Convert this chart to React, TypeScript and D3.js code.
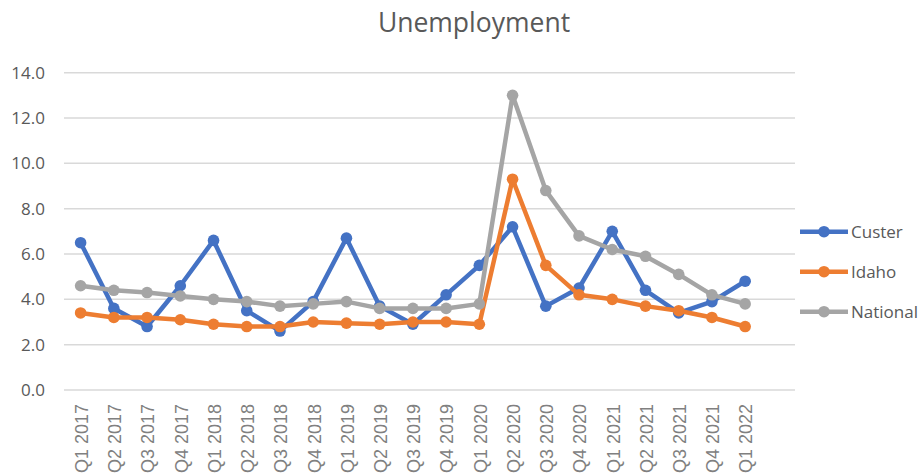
import React from "react";
import * as d3 from "d3";

const quarters = [
  "Q1 2017", "Q2 2017", "Q3 2017", "Q4 2017",
  "Q1 2018", "Q2 2018", "Q3 2018", "Q4 2018",
  "Q1 2019", "Q2 2019", "Q3 2019", "Q4 2019",
  "Q1 2020", "Q2 2020", "Q3 2020", "Q4 2020",
  "Q1 2021", "Q2 2021", "Q3 2021", "Q4 2021",
  "Q1 2022",
];

const custer = [6.5, 3.6, 2.8, 4.6, 6.6, 3.5, 2.6, 3.9, 6.7, 3.7, 2.9, 4.2, 5.5, 7.2, 3.7, 4.5, 7.0, 4.4, 3.4, 3.9, 4.8];
const idaho = [3.4, 3.2, 3.2, 3.1, 2.9, 2.8, 2.8, 3.0, 2.95, 2.9, 3.0, 3.0, 2.9, 9.3, 5.5, 4.2, 4.0, 3.7, 3.5, 3.2, 2.8];
const national = [4.6, 4.4, 4.3, 4.15, 4.0, 3.9, 3.7, 3.8, 3.9, 3.6, 3.6, 3.6, 3.8, 13.0, 8.8, 6.8, 6.2, 5.9, 5.1, 4.2, 3.8];

const yTicks = [0, 2, 4, 6, 8, 10, 12, 14];

const series = [
  { name: "Custer", values: custer, color: "#4472C4" },
  { name: "Idaho", values: idaho, color: "#ED7D31" },
  { name: "National", values: national, color: "#A5A5A5" },
];

const W = 920;
const H = 476;
const left = 64;
const right = 795;
const top = 72.7;
const bottom = 390;
const font = "'Open Sans', 'Noto Sans', sans-serif";

export default function App() {
  // excel leaves one empty slot at the right end of the category axis
  const step = (right - left) / 22;
  const x = d3
    .scaleBand()
    .domain(quarters)
    .range([left, left + step * quarters.length]);

  const y = d3.scaleLinear().domain([0, 14]).range([bottom, top]);

  const line = d3
    .line<number>()
    .x((d, i) => (x(quarters[i]) as number) + x.bandwidth() / 2)
    .y((d) => y(d));

  return (
    <svg
      width={W}
      height={H}
      style={{ position: "absolute", left: 0, top: 0, background: "#fff" }}
    >
      <text x={474} y={32} textAnchor="middle" fontFamily={font} fontSize={26.5} fill="#595959">
        Unemployment
      </text>

      {yTicks.map((t) => (
        <g key={t}>
          <line x1={left} x2={right} y1={y(t)} y2={y(t)} stroke="#d9d9d9" strokeWidth={1.5} />
          <text
            x={45}
            y={y(t)}
            dy="0.35em"
            textAnchor="end"
            fontFamily={font}
            fontSize={17}
            fill="#595959"
          >
            {t.toFixed(1)}
          </text>
        </g>
      ))}

      {quarters.map((q) => {
        const cx = (x(q) as number) + x.bandwidth() / 2;
        return (
          <text
            key={q}
            transform={`translate(${cx + 1},404) rotate(-90)`}
            dy="0.35em"
            textAnchor="end"
            fontFamily="'Liberation Sans', Arial, sans-serif"
            fontSize={18}
            fill="#808080"
          >
            {q}
          </text>
        );
      })}

      {series.map((s) => (
        <g key={s.name}>
          <path d={line(s.values) || ""} fill="none" stroke={s.color} strokeWidth={4.5} strokeLinejoin="round" />
          {s.values.map((v, i) => (
            <circle
              key={i}
              cx={(x(quarters[i]) as number) + x.bandwidth() / 2}
              cy={y(v)}
              r={5.8}
              fill={s.color}
            />
          ))}
        </g>
      ))}

      {series.map((s, i) => {
        const ly = 231.7 + i * 40;
        return (
          <g key={s.name}>
            <line x1={800} x2={848} y1={ly} y2={ly} stroke={s.color} strokeWidth={4.5} />
            <circle cx={824} cy={ly} r={5.8} fill={s.color} />
            <text x={851} y={ly} dy="0.35em" fontFamily={font} fontSize={17} fill="#595959">
              {s.name}
            </text>
          </g>
        );
      })}
    </svg>
  );
}
